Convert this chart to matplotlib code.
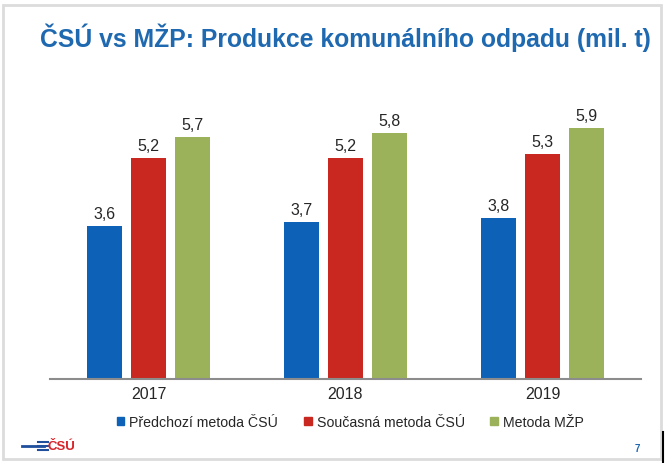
import numpy as np
import matplotlib
matplotlib.use("Agg")
import matplotlib.pyplot as plt
from matplotlib.patches import Rectangle, Patch
from matplotlib.lines import Line2D

plt.rcParams['font.family'] = ['Liberation Sans', 'DejaVu Sans']

years = ["2017", "2018", "2019"]
series_names = ["Předchozí metoda ČSÚ", "Současná metoda ČSÚ", "Metoda MŽP"]
predchozi = [3.6, 3.7, 3.8]
soucasna = [5.2, 5.2, 5.3]
mzp = [5.7, 5.8, 5.9]
colors = ["#0d62b8", "#c8281f", "#9bb25a"]

W, H = 671, 464
fig = plt.figure(figsize=(W / 100, H / 100), dpi=100)
fig.patch.set_facecolor("white")

# slide frame
fig.add_artist(Rectangle((3 / W, 1 - 460 / H), 658 / W, 454 / H, transform=fig.transFigure,
                         fill=False, edgecolor="#dcdcdc", lw=2))
fig.add_artist(Line2D([663 / W, 663 / W], [0, 1 - 433 / H], transform=fig.transFigure,
                      color="black", lw=1.5))

ax = fig.add_axes([50 / W, 1 - 380 / H, 591 / W, 276 / H])
x = np.arange(len(years))
width = 0.175
offsets = [-0.223, 0, 0.223]
for vals, off, c, name in zip([predchozi, soucasna, mzp], offsets, colors, series_names):
    bars = ax.bar(x + off, vals, width, color=c, label=name, zorder=2)
    for b, v in zip(bars, vals):
        ax.text(b.get_x() + b.get_width() / 2, v + 0.12, f"{v:.1f}".replace(".", ","),
                ha="center", va="bottom", fontsize=11.5, color="#262626")

ax.set_xlim(-0.5, 2.5)
ax.set_ylim(0, 6.5)
ax.set_yticks([])
ax.set_xticks(x)
ax.set_xticklabels(years, fontsize=11.5, color="#262626")
ax.tick_params(axis="x", length=0, pad=5)
for s in ["top", "left", "right"]:
    ax.spines[s].set_visible(False)
ax.spines["bottom"].set_color("#8c8c8c")
ax.spines["bottom"].set_linewidth(1.5)

handles = [Patch(color=c) for c in colors]
fig.legend(handles, series_names, loc="center", bbox_to_anchor=(0.522, 1 - 423 / H), ncol=3,
           frameon=False, fontsize=10.2, handlelength=0.55, handleheight=0.55,
           handletextpad=0.35, columnspacing=1.8, labelcolor="#262626")

fig.text(40 / W, 1 - 38 / H, "ČSÚ vs MŽP: Produkce komunálního odpadu (mil. t)",
         fontsize=17.8, fontweight="bold", color="#1f69b0", va="center", ha="left")

# logo
fig.add_artist(Line2D([22 / W, 44 / W], [1 - 447 / H] * 2, transform=fig.transFigure,
                      color="#1f4e9c", lw=2))
for dy in (-4, 0, 4):
    fig.add_artist(Line2D([38 / W, 48 / W], [1 - (447 + dy) / H] * 2, transform=fig.transFigure,
                          color="#1f4e9c", lw=1.5))
fig.text(48 / W, 1 - 447 / H, "ČSÚ", fontsize=9.5, fontweight="bold", color="#d7262c",
         va="center", ha="left")
fig.text(637 / W, 1 - 449 / H, "7", fontsize=7, fontweight="bold", color="#1f69b0",
         va="center", ha="center")

fig.savefig("out.png", dpi=100)
